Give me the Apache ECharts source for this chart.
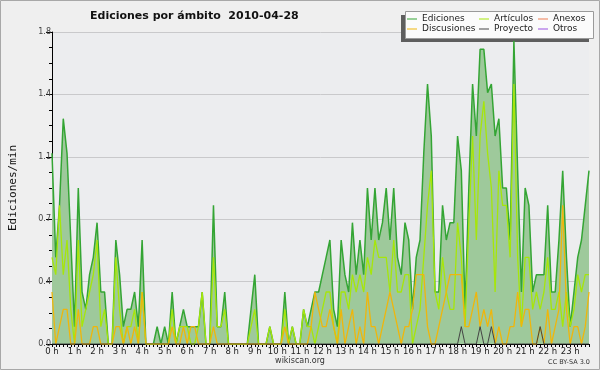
<!DOCTYPE html>
<html><head><meta charset="utf-8">
<script src="https://cdn.jsdelivr.net/npm/echarts@6/dist/echarts.min.js"></script>
<style>html,body{margin:0;padding:0;background:#efefef}#c{width:600px;height:370px}</style>
</head><body><div id="c"></div>
<script>
const hourLabels = ['0 h','1 h','2 h','3 h','4 h','5 h','6 h','7 h','8 h','9 h','10 h','11 h',
  '12 h','13 h','14 h','15 h','16 h','17 h','18 h','19 h','20 h','21 h','22 h','23 h'];
const yTicks = [0, 0.36, 0.72, 1.08, 1.44, 1.8];

const ediciones = [
  1.1, 0.5, 0.8, 1.3, 1.1, 0.6, 0.1, 0.9, 0.3, 0.2, 0.4, 0.5,
  0.7, 0.3, 0.3, 0, 0, 0.6, 0.4, 0.1, 0.2, 0.2, 0.3, 0.1,
  0.6, 0, 0, 0, 0.1, 0, 0.1, 0, 0.3, 0, 0.1, 0.2,
  0.1, 0.1, 0.1, 0.1, 0.3, 0, 0, 0.8, 0.1, 0.1, 0.3, 0,
  0, 0, 0, 0, 0, 0.2, 0.4, 0, 0, 0, 0.1, 0,
  0, 0, 0.3, 0, 0.1, 0, 0, 0.2, 0.1, 0.2, 0.3, 0.3,
  0.4, 0.5, 0.6, 0.2, 0.1, 0.6, 0.4, 0.3, 0.7, 0.4, 0.6, 0.4,
  0.9, 0.6, 0.9, 0.6, 0.7, 0.9, 0.6, 0.9, 0.5, 0.4, 0.7, 0.6,
  0.2, 0.5, 0.6, 1.1, 1.5, 1.2, 0.3, 0.3, 0.8, 0.6, 0.7, 0.7,
  1.2, 1.0, 0.2, 0.9, 1.5, 1.2, 1.7, 1.7, 1.45, 1.5, 1.2, 1.3,
  0.9, 0.9, 0.6, 1.75, 1.0, 0.3, 0.9, 0.8, 0.3, 0.4, 0.4, 0.4,
  0.8, 0.3, 0.3, 0.6, 1.0, 0.5, 0.1, 0.3, 0.5, 0.6, 0.8, 1.0
];
const articulos = [
  0.5, 0.4, 0.8, 0.4, 0.6, 0.2, 0, 0.6, 0.1, 0.2, 0.3, 0.4,
  0.6, 0.1, 0.2, 0, 0, 0.5, 0.2, 0, 0.1, 0.1, 0.2, 0,
  0.3, 0, 0, 0, 0, 0, 0, 0, 0.2, 0, 0.1, 0.1,
  0.1, 0, 0, 0.1, 0.3, 0, 0, 0.5, 0.1, 0.1, 0.2, 0,
  0, 0, 0, 0, 0, 0.1, 0.2, 0, 0, 0, 0.1, 0,
  0, 0, 0.2, 0, 0.1, 0, 0, 0.2, 0.1, 0.1, 0, 0.1,
  0.2, 0.3, 0.3, 0.1, 0, 0.3, 0.3, 0.2, 0.4, 0.3, 0.4, 0.3,
  0.5, 0.4, 0.6, 0.5, 0.5, 0.5, 0.3, 0.6, 0.3, 0.3, 0.4, 0.4,
  0, 0.1, 0.2, 0.5, 0.8, 1.0, 0.3, 0.2, 0.5, 0.3, 0.2, 0.2,
  0.7, 0.5, 0.1, 0.7, 1.2, 0.6, 1.2, 1.4, 1.1, 0.9, 0.3, 1.0,
  0.8, 0.8, 0.5, 1.5, 0.5, 0.1, 0.5, 0.5, 0.2, 0.3, 0.2, 0.3,
  0.5, 0.2, 0.2, 0.3, 0.1, 0.3, 0.1, 0.2, 0.4, 0.3, 0.4, 0.4
];
const discusiones = [
  0.3, 0, 0.1, 0.2, 0.2, 0, 0, 0.2, 0, 0, 0, 0.1,
  0.1, 0, 0, 0, 0, 0.1, 0.1, 0, 0.1, 0, 0.1, 0,
  0.3, 0, 0, 0, 0, 0, 0, 0, 0.1, 0, 0, 0.1,
  0, 0.1, 0.1, 0, 0, 0, 0, 0.1, 0, 0, 0, 0,
  0, 0, 0, 0, 0, 0, 0, 0, 0, 0, 0, 0,
  0, 0, 0.1, 0, 0, 0, 0, 0, 0, 0.1, 0.3, 0.2,
  0.1, 0.1, 0.2, 0.1, 0, 0.2, 0, 0.1, 0.2, 0, 0.1, 0,
  0.3, 0.1, 0.1, 0, 0.1, 0.2, 0.3, 0.2, 0.1, 0, 0.1, 0.1,
  0.2, 0.4, 0.4, 0.4, 0.1, 0, 0, 0.1, 0.2, 0.3, 0.4, 0.4,
  0.4, 0.4, 0.1, 0.1, 0.2, 0.3, 0.1, 0.2, 0.1, 0.2, 0, 0.1,
  0, 0, 0.1, 0.1, 0.3, 0.1, 0.2, 0.2, 0, 0, 0.1, 0,
  0.2, 0, 0.1, 0.2, 0.8, 0.2, 0, 0.1, 0.1, 0, 0.1, 0.3
];
const proyecto = [
  0, 0, 0, 0, 0, 0, 0, 0, 0, 0, 0, 0,
  0, 0, 0, 0, 0, 0, 0, 0, 0, 0, 0, 0,
  0, 0, 0, 0, 0, 0, 0, 0, 0, 0, 0, 0,
  0, 0, 0, 0, 0, 0, 0, 0, 0, 0, 0, 0,
  0, 0, 0, 0, 0, 0, 0, 0, 0, 0, 0, 0,
  0, 0, 0, 0, 0, 0, 0, 0, 0, 0, 0, 0,
  0, 0, 0, 0, 0, 0, 0, 0, 0, 0, 0, 0,
  0, 0, 0, 0, 0, 0, 0, 0, 0, 0, 0, 0,
  0, 0, 0, 0, 0, 0, 0, 0, 0, 0, 0, 0,
  0, 0.1, 0, 0, 0, 0, 0.1, 0, 0, 0.1, 0, 0,
  0, 0, 0, 0, 0, 0, 0, 0, 0, 0, 0.1, 0,
  0, 0, 0, 0, 0, 0, 0, 0, 0, 0, 0, 0
];
const anexos = [];
const otros = [];

// 10-minute slots: hour label on the first slot of each hour
const slots = [];
hourLabels.forEach(function (h) { for (let m = 0; m < 6; m++) slots.push(m === 0 ? h : ''); });

const chart = echarts.init(document.getElementById('c'), null, {renderer: 'canvas'});
const legendText = {fontFamily: 'DejaVu Sans', fontSize: 9, color: '#222', lineHeight: 10};
function legendCol(left, names) {
  return {orient: 'vertical', left: left, top: 14, padding: 0, itemGap: 0,
    itemWidth: 10, itemHeight: 1, icon: 'rect', data: names, textStyle: legendText,
    selectedMode: false};
}
chart.setOption({
  animation: false,
  backgroundColor: '#efefef',
  title: {text: 'Ediciones por ámbito  2010-04-28', left: 85, top: 6,
    textStyle: {fontFamily: 'DejaVu Sans', fontWeight: 'bold', fontSize: 11, color: '#111'}},
  graphic: [
    {type: 'rect', shape: {x: 0.5, y: 0.5, width: 599, height: 369}, style: {fill: 'none', stroke: '#a8a8a8', lineWidth: 1}, z: 0},
    {type: 'rect', shape: {x: 401, y: 15, width: 188, height: 27}, style: {fill: '#5e5e5e'}, z: 1},
    {type: 'rect', shape: {x: 405.5, y: 11.5, width: 188, height: 27}, style: {fill: '#fbfbfb', stroke: '#9a9a9a', lineWidth: 1}, z: 2},
    {type: 'text', x: 300, y: 361, style: {text: 'wikiscan.org', fontFamily: 'DejaVu Sans', fontSize: 8, fill: '#333', align: 'center', verticalAlign: 'middle'}},
    {type: 'text', x: 590, y: 362, style: {text: 'CC BY-SA 3.0', fontFamily: 'DejaVu Sans', fontSize: 6.5, fill: '#333', align: 'right', verticalAlign: 'middle'}}
  ],
  legend: [
    legendCol(407, ['Ediciones', 'Discusiones']),
    legendCol(479, ['Artículos', 'Proyecto']),
    legendCol(538, ['Anexos', 'Otros'])
  ],
  grid: {left: 45, right: 11, top: 32, bottom: 26, show: true, backgroundColor: '#ecedef', borderWidth: 0},
  xAxis: {
    type: 'category', data: slots, boundaryGap: false,
    axisLine: {lineStyle: {color: '#000', width: 1}},
    axisTick: {show: true, interval: 0, length: 3, lineStyle: {color: '#000'}},
    axisLabel: {interval: function (i) { return i % 6 === 0; }, margin: 3,
      fontFamily: 'DejaVu Sans', fontSize: 8.5, color: '#222'},
    splitLine: {show: false}
  },
  yAxis: {
    type: 'value', min: yTicks[0], max: yTicks[yTicks.length - 1], interval: yTicks[1],
    name: 'Ediciones/min', nameLocation: 'middle', nameGap: 33, nameRotate: 90,
    nameTextStyle: {fontFamily: 'DejaVu Sans Mono', fontSize: 11, color: '#111'},
    axisLine: {show: true, lineStyle: {color: '#000', width: 1}},
    axisTick: {show: true, length: 6, lineStyle: {color: '#000'}},
    minorTick: {show: true, splitNumber: 4, length: 3, lineStyle: {color: '#000'}},
    axisLabel: {formatter: function (v) { return v.toFixed(1); }, margin: 1,
      fontFamily: 'DejaVu Sans', fontSize: 8, color: '#444'},
    splitLine: {show: true, lineStyle: {color: '#c9c9cb', width: 1}}
  },
  series: [
    {name: 'Ediciones', type: 'line', data: ediciones, symbol: 'none', color: '#34a534',
      lineStyle: {color: '#34a534', width: 1.5}, areaStyle: {color: '#9ec99b', opacity: 1}},
    {name: 'Artículos', type: 'line', data: articulos, symbol: 'none', color: '#a6e60a',
      lineStyle: {color: '#a6e60a', width: 1.3}},
    {name: 'Discusiones', type: 'line', data: discusiones, symbol: 'none', color: '#efb60c',
      lineStyle: {color: '#efb60c', width: 1.3}},
    {name: 'Proyecto', type: 'line', data: proyecto, symbol: 'none', color: '#444',
      lineStyle: {color: '#444', width: 1}},
    {name: 'Anexos', type: 'line', data: anexos, symbol: 'none', color: '#ef7c52',
      lineStyle: {color: '#ef7c52', width: 1.3}},
    {name: 'Otros', type: 'line', data: otros, symbol: 'none', color: '#9a50e0',
      lineStyle: {color: '#9a50e0', width: 1.3}}
  ]
});
</script></body></html>
